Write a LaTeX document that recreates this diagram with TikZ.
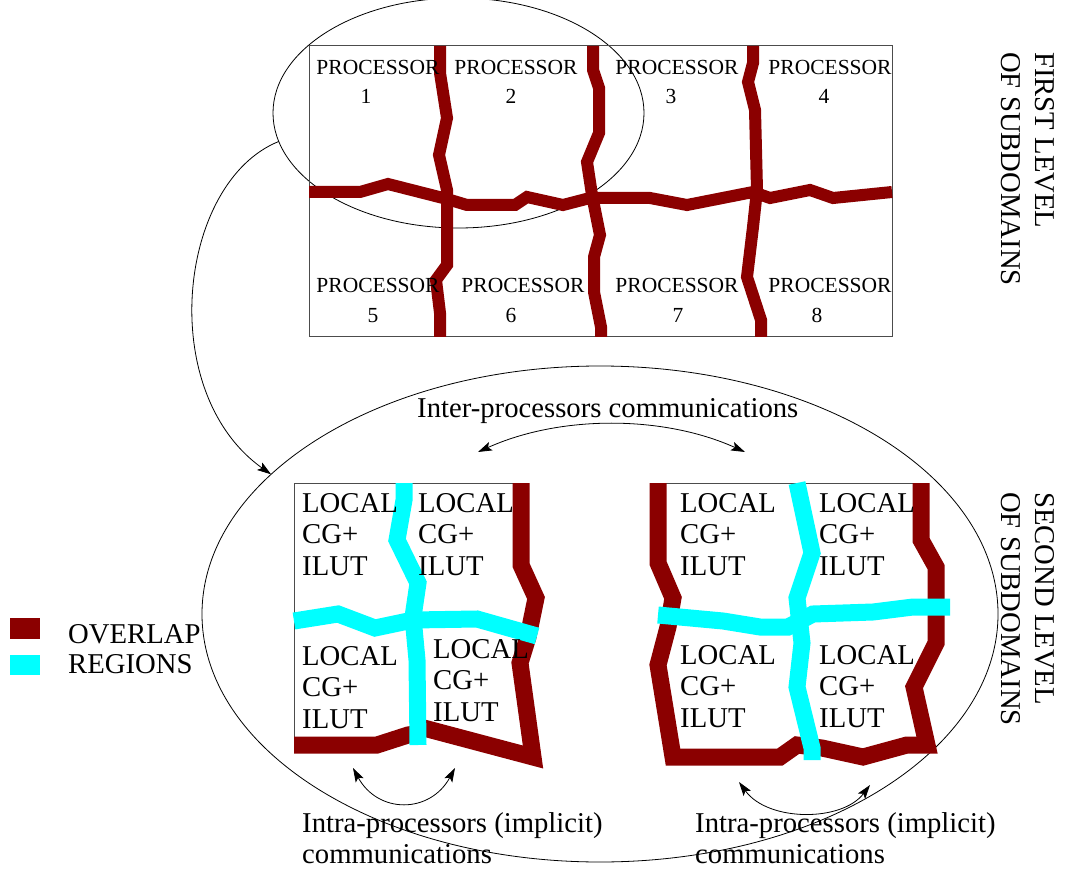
\documentclass[tikz,border=0pt]{standalone}
\usepackage{fontspec}
\setmainfont{Liberation Serif}
\usetikzlibrary{shapes.geometric,arrows.meta}
\definecolor{ovl}{RGB}{139,0,0}
\definecolor{reg}{RGB}{0,255,255}
\begin{document}
\begin{tikzpicture}[x=1pt,y=-1pt,
  frame/.style={draw=black!70, line width=1pt},
  ring/.style={draw, ellipse, line width=0.8pt, inner sep=0pt, outer sep=0pt},
  ovlA/.style={draw=ovl, line width=12pt, line join=miter},
  ovlB/.style={draw=ovl, line width=17pt, line join=miter},
  regB/.style={draw=reg, line width=17pt, line join=miter},
  proc/.style={font=\fontsize{21.5}{26}\selectfont, inner sep=0pt, anchor=base},
  big/.style={font=\fontsize{28.7}{34}\selectfont, inner sep=0pt, anchor=base west},
  arr/.style={draw, line width=0.8pt, -{Stealth[length=14pt,width=9pt,inset=3pt]}},
  comm/.style={draw, line width=0.8pt, {Stealth[length=14pt,width=9pt,inset=3pt]}-{Stealth[length=14pt,width=9pt,inset=3pt]}},
  key/.style={draw=none, inner sep=0pt, minimum width=30pt, minimum height=21pt}]
\useasboundingbox (0,0) rectangle (1073,874);

% ellipses
\node[ring, minimum width=371pt, minimum height=230pt] (lvlone) at (458.5,113) {};
\node[ring, minimum width=796pt, minimum height=496pt] (lvltwo) at (600,614) {};

% first level frame
\draw[frame] (309,46) rectangle (892,337);

% first level overlaps
\draw[ovlA] (309,192) -- (360,192) -- (388,184) -- (447,199) -- (467,205) -- (515,205) -- (527,197) -- (563,205) -- (590,198) -- (650,198) -- (687,205) -- (753,192) -- (770,198) -- (810,190) -- (833,198) -- (892,192);
\draw[ovlA] (440,46) -- (440,73) -- (447,118) -- (439,155) -- (447,190) -- (447,265) -- (436,280) -- (440,313) -- (440,337);
\draw[ovlA] (593,46) -- (593,70) -- (599,88) -- (599,133) -- (587,162) -- (592,195) -- (600,235) -- (594,257) -- (594,292) -- (601,327) -- (601,337);
\draw[ovlA] (753,46) -- (753,63) -- (748,82) -- (755,110) -- (757,190) -- (753,227) -- (747,277) -- (761,320) -- (761,337);

% second level, box A
\draw[frame] (521,483) -- (294,483) -- (294,747);
\draw[ovlB] (521,483) -- (521,565) -- (536,598) -- (528,637) -- (520,663) -- (533,757) -- (420,727);
\draw[ovlB] (294,745) -- (377,745) -- (408,735) -- (420,733);
\draw[regB] (404,483) -- (404,500) -- (397,540) -- (418,583) -- (413,617) -- (417,660) -- (418,745);
\draw[regB] (294,621) -- (338,614) -- (375,628) -- (413,620) -- (477,619) -- (537,636);

% second level, box B
\draw[frame] (658,483) -- (921,483);
\draw[ovlB] (921,483) -- (921,540) -- (936,567) -- (936,643) -- (914,687) -- (927,745) -- (907,745) -- (863,757) -- (822,748) -- (797,745) -- (780,757) -- (673,757) -- (658,665) -- (668,627) -- (673,598) -- (658,563) -- (658,483);
\draw[regB] (797,483) -- (812,553) -- (797,598) -- (802,643) -- (797,687) -- (812,748) -- (812,760);
\draw[regB] (658,615) -- (723,621) -- (760,627) -- (788,627) -- (813,614) -- (873,612) -- (913,607) -- (950,607);

% processor labels
\node[proc] (p1) at (378,75) {PROCESSOR};  \node[proc] (n1) at (366,104) {1};
\node[proc] (p2) at (516,75) {PROCESSOR};  \node[proc] (n2) at (511,104) {2};
\node[proc] (p3) at (677,75) {PROCESSOR};  \node[proc] (n3) at (671,104) {3};
\node[proc] (p4) at (830,75) {PROCESSOR};  \node[proc] (n4) at (824,104) {4};
\node[proc] (p5) at (378,293) {PROCESSOR}; \node[proc] (n5) at (373,323) {5};
\node[proc] (p6) at (523,293) {PROCESSOR}; \node[proc] (n6) at (511,323) {6};
\node[proc] (p7) at (677,293) {PROCESSOR}; \node[proc] (n7) at (678,323) {7};
\node[proc] (p8) at (830,293) {PROCESSOR}; \node[proc] (n8) at (817,323) {8};

% local solver labels
\foreach \x/\y/\n in {302/512/sa, 418/512/sb, 302/665/sc, 433/658/sd, 680/512/se, 819/512/sf, 680/664/sg, 819/664/sh} {
  \node[big] (\n-1) at (\x,\y) {LOCAL};
  \node[big] (\n-2) at (\x,\y+31.5) {CG+};
  \node[big] (\n-3) at (\x,\y+63) {ILUT};
}

% level titles
\node[big, rotate=-90] (t1a) at (1035,52) {FIRST LEVEL};
\node[big, rotate=-90] (t1b) at (1001,52) {OF SUBDOMAINS};
\node[big, rotate=-90] (t2a) at (1035,492) {SECOND LEVEL};
\node[big, rotate=-90] (t2b) at (1001,492) {OF SUBDOMAINS};

% legend
\node[key, fill=ovl] (k1) at (25,628.5) {};
\node[key, fill=reg, minimum height=20pt] (k2) at (25,665) {};
\node[big] (l1) at (68,643) {OVERLAP};
\node[big] (l2) at (68,673) {REGIONS};

% communications
\node[big] (inter) at (417,417) {Inter-processors communications};
\node[big] (intraA1) at (302,832) {Intra-processors (implicit)};
\node[big] (intraA2) at (302,863) {communications};
\node[big] (intraB1) at (695,832) {Intra-processors (implicit)};
\node[big] (intraB2) at (695,863) {communications};

\coordinate (ia) at (478,452);
\coordinate (ib) at (745,452);
\coordinate (ja) at (353,768);
\coordinate (jb) at (455,768);
\coordinate (ka) at (739,782);
\coordinate (kb) at (870,785);
\draw[comm] (ia) .. controls (560,415) and (663,415) .. (ib);
\draw[comm] (ja) .. controls (378,814) and (430,814) .. (jb);
\draw[comm] (ka) .. controls (768,822) and (842,822) .. (kb);

\draw[arr] (lvlone.189) .. controls (178,182) and (155,392) .. (lvltwo.157);
\end{tikzpicture}
\end{document}
